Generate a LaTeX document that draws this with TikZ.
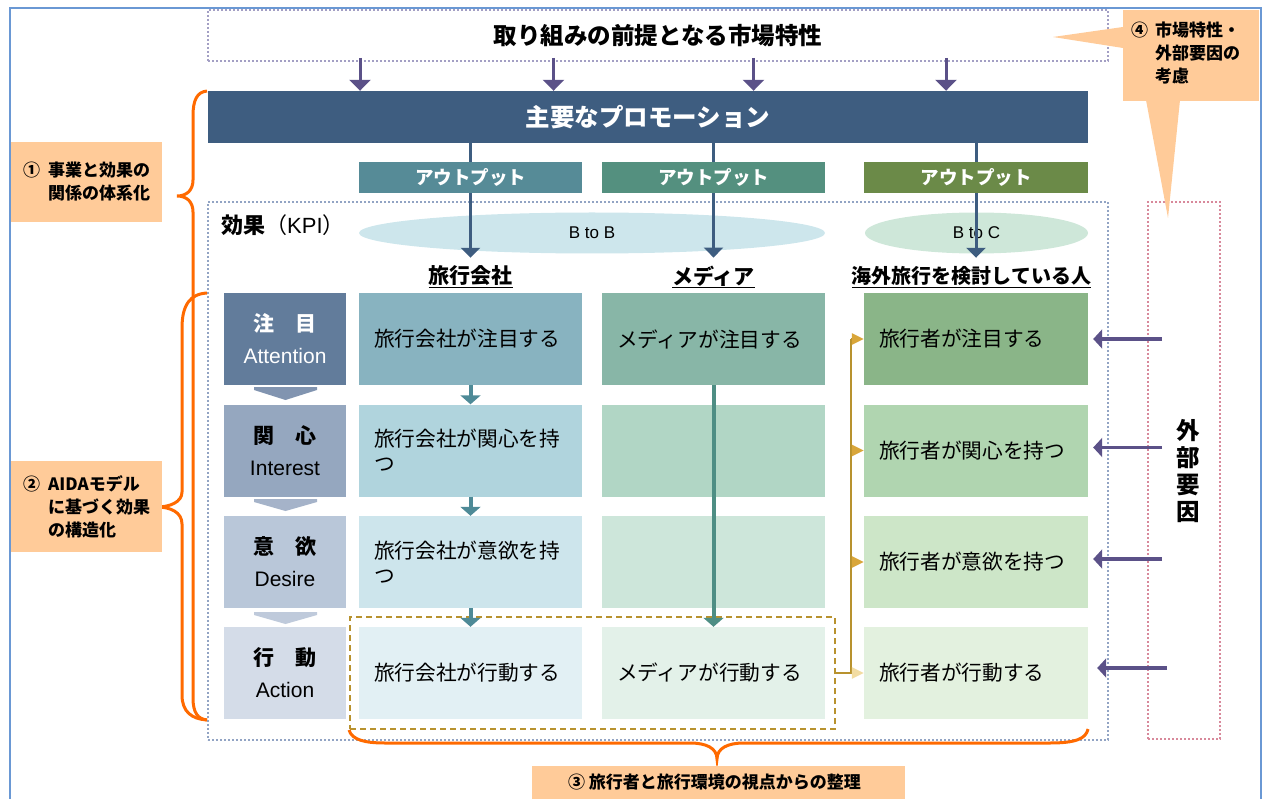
\documentclass[tikz,border=0pt]{standalone}
\usepackage{fontspec}
\setmainfont{Noto Sans CJK JP}
\newfontfamily\lat{Liberation Sans}
\usetikzlibrary{arrows.meta,calc,shapes.geometric}
\newcommand\fsz[2]{\fontsize{#1}{#2}\selectfont}
\definecolor{frameblue}{HTML}{6A98D4}
\definecolor{dotpurple}{HTML}{A39FC4}
\definecolor{dotblue}{HTML}{92A4C4}
\definecolor{dotpink}{HTML}{D8899B}
\definecolor{arrpurple}{HTML}{5B5188}
\definecolor{mainblue}{HTML}{3E5D80}
\definecolor{outA}{HTML}{568B97}
\definecolor{outB}{HTML}{54907F}
\definecolor{outC}{HTML}{6B8A48}
\definecolor{ellB}{HTML}{CDE6EC}
\definecolor{ellC}{HTML}{CEE7D9}
\definecolor{aidaA}{HTML}{627C9B}
\definecolor{aidaB}{HTML}{95A7BF}
\definecolor{aidaC}{HTML}{B9C7D9}
\definecolor{aidaD}{HTML}{D4DCE8}
\definecolor{chA}{HTML}{8194B0}
\definecolor{chB}{HTML}{A5B3C9}
\definecolor{chC}{HTML}{BFCADB}
\definecolor{kA}{HTML}{88B3C0}
\definecolor{kB}{HTML}{B0D4DD}
\definecolor{kC}{HTML}{CDE5EC}
\definecolor{kD}{HTML}{E2F0F4}
\definecolor{mA}{HTML}{88B6A7}
\definecolor{mB}{HTML}{B1D6C5}
\definecolor{mC}{HTML}{CDE6DA}
\definecolor{mD}{HTML}{E3F1E9}
\definecolor{pA}{HTML}{8AB588}
\definecolor{pB}{HTML}{B0D5B0}
\definecolor{pC}{HTML}{CDE6C8}
\definecolor{pD}{HTML}{E3F1DF}
\definecolor{tealA}{HTML}{4E8A97}
\definecolor{tealB}{HTML}{4E8E84}
\definecolor{gold}{HTML}{B8922E}
\definecolor{goldtip}{HTML}{D9A63A}
\definecolor{goldpale}{HTML}{F2DCA2}
\definecolor{bracec}{HTML}{FF6A00}
\definecolor{callout}{HTML}{FFCB99}
\begin{document}
\begin{tikzpicture}[x=1pt,y=-1pt,
  dotbox/.style={draw=#1, line width=2pt, dash pattern=on 2pt off 2pt, minimum width=10, inner sep=0},
  cell/.style={minimum height=92, text width=193, inner xsep=15, inner ysep=0, align=left, font=\fsz{20.7}{25}},
  aida/.style={minimum height=92, minimum width=122, inner sep=0, align=center, font=\fsz{21}{32}},
  outbox/.style={minimum width=223, minimum height=31, inner sep=0, text=white, font=\bfseries\fsz{18.5}{20}},
  hdr/.style={inner sep=0, font=\bfseries\fsz{21}{24}},
  parr/.style={arrpurple, line width=3pt, -{Triangle[width=21pt,length=11pt]}},
  barr/.style={mainblue, line width=3pt, -{Triangle[width=19pt,length=10pt]}},
  tarr/.style={#1, line width=4pt, -{Triangle[width=20pt,length=9pt]}},
  rarr/.style={arrpurple, line width=3.5pt, -{Triangle[width=19pt,length=9pt]}},
  gline/.style={gold, line width=2.5pt},
  garr/.style={gold, line width=2.5pt, -{Triangle[width=11pt,length=12pt,color=#1]}},
  bracepath/.style={bracec, line width=3pt},
  calltext/.style={align=left, inner sep=0, font=\bfseries\fsz{17}{23}}
]
\useasboundingbox (0,0) rectangle (1263,799);
% outer frame
\draw[frameblue, line width=1.5pt] (10,8) rectangle (1261,830);

% top box and main bar
\node[dotbox=dotpurple, minimum width=900, minimum height=51, font=\bfseries\fsz{23.5}{28}] (top) at (658,35.5) {取り組みの前提となる市場特性};
\node[fill=mainblue, minimum width=880, minimum height=52, inner sep=0, text=white, font=\bfseries\fsz{24.5}{28}] (main) at (648,117) {主要なプロモーション};
\coordinate (ta) at (360,0);
\coordinate (tb) at (553.5,0);
\coordinate (tc) at (753.5,0);
\coordinate (td) at (946,0);
\foreach \c in {ta,tb,tc,td}
  \draw[parr, shorten <=-4pt] (top.south -| \c) -- (main.north -| \c);

% KPI area
\node[dotbox=dotblue, minimum width=900, minimum height=538] (kpi) at (658,471) {};
\node[anchor=west, inner sep=0, font=\fsz{22}{25}] (kpil) at (221,225) {\bfseries 効果\mdseries （{\lat KPI}）};
\node[ellipse, fill=ellB, minimum width=466, minimum height=41, inner sep=0, font=\lat\fsz{17}{19}] (btob) at (592,233) {B to B};
\node[ellipse, fill=ellC, minimum width=223, minimum height=41, inner sep=0, font=\lat\fsz{17}{19}] (btoc) at (976.5,233) {B to C};

% headers
\node[hdr] (h1) at (470.5,277) {\underline{旅行会社}};
\node[hdr] (h2) at (713.5,277) {\underline{メディア}};
\node[hdr, font=\bfseries\fsz{20}{24}] (h3) at (971.5,277) {\underline{海外旅行を検討している人}};

% AIDA column
\node[aida, fill=aidaA, text=white] (a1) at (285,339) {{\bfseries 注　目}\\{\lat Attention}};
\node[aida, fill=aidaB] (a2) at (285,450.5) {{\bfseries 関　心}\\{\lat Interest}};
\node[aida, fill=aidaC] (a3) at (285,562) {{\bfseries 意　欲}\\{\lat Desire}};
\node[aida, fill=aidaD] (a4) at (285,673) {{\bfseries 行　動}\\{\lat Action}};
\fill[chA] (254,387) -- (317,387) -- (317,390) -- (285.5,400) -- (254,390) -- cycle;
\fill[chB] (254,499) -- (317,499) -- (317,502) -- (285.5,511) -- (254,502) -- cycle;
\fill[chC] (254,612) -- (317,612) -- (317,615) -- (285.5,624) -- (254,615) -- cycle;

% column 1: travel agencies
\node[cell, fill=kA] (c11) at (470.5,339) {旅行会社が注目する};
\node[cell, fill=kB] (c12) at (470.5,450.5) {旅行会社が関心を持\\つ};
\node[cell, fill=kC] (c13) at (470.5,562) {旅行会社が意欲を持\\つ};
\node[cell, fill=kD] (c14) at (470.5,673) {旅行会社が行動する};
% column 2: media
\node[cell, fill=mA] (c21) at (713.5,339) {メディアが注目する};
\node[cell, fill=mB] (c22) at (713.5,450.5) {};
\node[cell, fill=mC] (c23) at (713.5,562) {};
\node[cell, fill=mD] (c24) at (713.5,673) {メディアが行動する};
% column 3: travellers
\node[cell, fill=pA, text width=194] (c31) at (976,339) {旅行者が注目する};
\node[cell, fill=pB, text width=194] (c32) at (976,450.5) {旅行者が関心を持つ};
\node[cell, fill=pC, text width=194] (c33) at (976,562) {旅行者が意欲を持つ};
\node[cell, fill=pD, text width=194] (c34) at (976,673) {旅行者が行動する};

% lines from main bar (behind output boxes)
\draw[barr] (main.south -| h1) -- ([yshift=8pt]h1.north);
\draw[barr] (main.south -| h2) -- ([yshift=8pt]h2.north);
\draw[barr] (main.south -| c31) -- ([yshift=8pt]h1.north -| c31);

% output boxes
\node[outbox, fill=outA] (o1) at (470.5,177.5) {アウトプット};
\node[outbox, fill=outB] (o2) at (713.5,177.5) {アウトプット};
\node[outbox, fill=outC, minimum width=224] (o3) at (976,177.5) {アウトプット};

% group box (action row of B to B)
\node[draw=gold, line width=1.5pt, dash pattern=on 6pt off 4pt, minimum width=485, minimum height=112, inner sep=0] (grp) at (592.5,673) {};

% column arrows
\draw[tarr=tealA] (c11.south) -- (c12.north);
\draw[tarr=tealA] (c12.south) -- (c13.north);
\draw[tarr=tealA] (c13.south) -- (c14.north);
\draw[tarr=tealB] (c21.south) -- (c24.north);

% gold connectors
\coordinate (gx) at (851,0);
\draw[gline] (grp.east |- c34.west) -- (gx |- c34.west) -- (gx |- c31.west);
\draw[garr=goldtip] (gx |- c31.west) -- (c31.west);
\draw[garr=goldtip] (gx |- c32.west) -- (c32.west);
\draw[garr=goldtip] (gx |- c33.west) -- (c33.west);
\draw[garr=goldpale] (gx |- c34.west) -- (c34.west);

% external factors
\node[dotbox=dotpink, minimum width=72, minimum height=537] (ext) at (1184,470.5) {};
\node[align=center, inner sep=0, font=\bfseries\fsz{23.5}{27}] (extl) at (1188,471.5) {外\\部\\要\\因};
\coordinate (exs) at ($(ext.west)+(15,0)$);
\draw[rarr] (exs |- c31.east) -- ([xshift=5pt]c31.east);
\draw[rarr] ([yshift=3pt]exs |- c32.east) -- ([xshift=5pt,yshift=3pt]c32.east);
\draw[rarr] ([yshift=3pt]exs |- c33.east) -- ([xshift=5pt,yshift=3pt]c33.east);
\draw[rarr] ([xshift=5pt,yshift=5pt]exs |- c34.east) -- ([xshift=9pt,yshift=5pt]c34.east);

% braces
\draw[bracepath] (207,91) .. controls (197,92) and (193,100) .. (193,116) -- (193,180) .. controls (193,190) and (187,196) .. (177,196) .. controls (187,196) and (193,202) .. (193,212) -- (193,698) .. controls (193,713) and (198,719) .. (207,720);
\draw[bracepath] (207,293) .. controls (190,294) and (182,305) .. (182,328) -- (182,492) .. controls (182,502) and (170,507) .. (157,507) .. controls (170,507) and (182,512) .. (182,524) -- (182,695) .. controls (182,712) and (192,719) .. (207,720);
\draw[bracepath] (349,730) .. controls (352,740) and (365,743) .. (385,743) -- (690,743) .. controls (706,743) and (717,748) .. (717,759) .. controls (717,748) and (728,743) .. (744,743) -- (1050,743) .. controls (1075,743) and (1086,739) .. (1088,729);

% callouts
\fill[callout] (11,142) rectangle (162,222);
\node[calltext, anchor=west] (k1) at (23,181.5) {\makebox[25pt][l]{①}事業と効果の\\\hspace*{25pt}関係の体系化};
\fill[callout] (11,461) rectangle (162,552);
\node[calltext, anchor=west] (k2) at (23,507) {\makebox[25pt][l]{②}AIDAモデル\\\hspace*{25pt}に基づく効果\\\hspace*{25pt}の構造化};
\fill[callout] (532,766) rectangle (905,815);
\node[calltext] (k3) at (714.5,782) {③ 旅行者と旅行環境の視点からの整理};
\fill[callout] (1123,10) rectangle (1259,101);
\fill[callout] (1123,27) -- (1053,37) -- (1123,48) -- cycle;
\fill[callout] (1146,100) -- (1168,218) -- (1180,100) -- cycle;
\node[calltext, anchor=west] (k4) at (1131,53) {\makebox[24pt][l]{④}市場特性・\\\hspace*{24pt}外部要因の\\\hspace*{24pt}考慮};
\end{tikzpicture}
\end{document}
